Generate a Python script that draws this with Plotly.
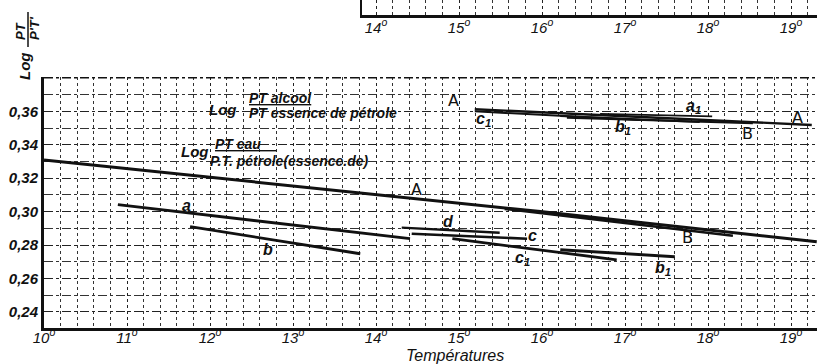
import plotly.graph_objects as go

# ---- Log(PT alcool / PT essence de pétrole) : segments (température °C, valeur) ----
alc_A_T = [15.19, 19.25]
alc_A_v = [0.3612, 0.3518]
alc_c1_T = [15.19, 17.18]
alc_c1_v = [0.3600, 0.3548]
alc_b1_T = [16.22, 17.90]
alc_b1_v = [0.3572, 0.3536]
alc_a1_T = [16.70, 18.05]
alc_a1_v = [0.3584, 0.3570]
alc_B_T = [16.30, 18.54]
alc_B_v = [0.3562, 0.3528]

# ---- Log(PT eau / PT pétrole) : segments ----
eau_A_T = [10.0, 15.98, 19.31]
eau_A_v = [0.3308, 0.3000, 0.2820]
eau_B_T = [15.55, 18.30]
eau_B_v = [0.3016, 0.2856]
eau_a_T = [10.89, 14.41]
eau_a_v = [0.3042, 0.2838]
eau_b_T = [11.76, 13.81]
eau_b_v = [0.2910, 0.2748]
eau_d_T = [14.31, 15.49]
eau_d_v = [0.2904, 0.2874]
eau_c_T = [14.43, 15.82]
eau_c_v = [0.2868, 0.2838]
eau_c1_T = [14.92, 16.90]
eau_c1_v = [0.2838, 0.2712]
eau_b1_T = [16.22, 17.60]
eau_b1_v = [0.2772, 0.2730]

# Curve letters and where they are written
label_text = ["A", "A", "a<sub>1</sub>", "b<sub>1</sub>", "B", "c<sub>1</sub>",
              "A", "B", "a", "b", "d", "c", "c<sub>1</sub>", "b<sub>1</sub>"]
label_T = [14.93, 19.08, 17.82, 16.98, 18.48, 15.29,
           14.49, 17.75, 11.72, 12.70, 14.87, 15.89, 15.77, 17.46]
label_v = [0.3662, 0.3560, 0.3626, 0.3502, 0.3466, 0.3552,
           0.3134, 0.2844, 0.3038, 0.2772, 0.2942, 0.2856, 0.2722, 0.2662]

# Axis ticks
x_ticks = list(range(10, 20))
x_ticktext = [f"{t}<sup>o</sup>" for t in x_ticks]
top_ticks = list(range(14, 20))
top_ticktext = [f"{t}<sup>o</sup>" for t in top_ticks]
y_ticks = [0.24, 0.26, 0.28, 0.30, 0.32, 0.34, 0.36]
y_ticktext = ["0,24", "0,26", "0,28", "0,30", "0,32", "0,34", "0,36"]

INK = "#111111"
FONT = "Liberation Sans"
W_PLOT, H_PLOT, LEFT = 773, 328, 44


def px(xp):
    """Horizontal page pixel -> paper fraction."""
    return (xp - LEFT) / W_PLOT


def py(yp):
    """Vertical page pixel -> paper fraction."""
    return (H_PLOT - yp) / H_PLOT


fig = go.Figure()

segments = [
    (alc_A_T, alc_A_v, 2.4), (alc_c1_T, alc_c1_v, 2.0), (alc_b1_T, alc_b1_v, 2.0),
    (alc_a1_T, alc_a1_v, 1.8), (alc_B_T, alc_B_v, 2.0),
    (eau_A_T, eau_A_v, 3.0), (eau_B_T, eau_B_v, 2.4), (eau_a_T, eau_a_v, 2.8),
    (eau_b_T, eau_b_v, 2.8), (eau_d_T, eau_d_v, 2.4), (eau_c_T, eau_c_v, 2.6),
    (eau_c1_T, eau_c1_v, 2.8), (eau_b1_T, eau_b1_v, 2.8),
]
for xs, ys, w in segments:
    fig.add_trace(go.Scatter(x=xs, y=ys, mode="lines",
                             line=dict(color=INK, width=w),
                             showlegend=False, hoverinfo="skip"))

# Empty trace so the upper strip of the neighbouring graph gets its axes
fig.add_trace(go.Scatter(x=[14, 19], y=[0.5, 0.5], mode="lines",
                         line=dict(width=0), xaxis="x2", yaxis="y2",
                         showlegend=False, hoverinfo="skip"))

for txt, t, v in zip(label_text, label_T, label_v):
    upper = txt[0].isupper()
    fig.add_annotation(x=t, y=v, text=txt, showarrow=False,
                       xanchor="center", yanchor="middle",
                       font=dict(family="DejaVu Sans" if upper else FONT,
                                 size=16, color=INK,
                                 style="normal" if upper else "italic",
                                 weight="normal" if upper else "bold"))

title_font = dict(family=FONT, size=14, color=INK, style="italic", weight="bold")
log_font = dict(family=FONT, size=15, color=INK, style="italic", weight="bold")
# Log PT alcool / PT essence de pétrole
fig.add_annotation(x=12.16, y=0.3612, text="Log", showarrow=False,
                   xanchor="center", yanchor="middle", font=log_font)
fig.add_annotation(x=12.45, y=0.3680, text="<u>PT alcool</u>", showarrow=False,
                   xanchor="left", yanchor="middle", font=title_font)
fig.add_annotation(x=12.45, y=0.3590, text="PT essence de pétrole", showarrow=False,
                   xanchor="left", yanchor="middle", font=title_font)
# Log PT eau / P.T. pétrole(essence de)
fig.add_annotation(x=11.82, y=0.3360, text="Log", showarrow=False,
                   xanchor="center", yanchor="middle", font=log_font)
fig.add_annotation(x=12.04, y=0.3404, text="<u>PT eau&#160;&#160;&#160;&#160;</u>",
                   showarrow=False, xanchor="left", yanchor="middle", font=title_font)
fig.add_annotation(x=11.98, y=0.3300, text="P.T. pétrole(essence.de)", showarrow=False,
                   xanchor="left", yanchor="middle", font=title_font)

# Axis titles
fig.add_annotation(x=px(455), y=py(355), xref="paper", yref="paper",
                   text="Températures", showarrow=False,
                   xanchor="center", yanchor="middle",
                   font=dict(family=FONT, size=16, color=INK, style="italic"))
fig.add_annotation(x=px(25), y=py(66), xref="paper", yref="paper",
                   text="Log", textangle=-90, showarrow=False,
                   xanchor="center", yanchor="middle", font=log_font)
fig.add_annotation(x=px(21), y=py(31), xref="paper", yref="paper",
                   text="PT", textangle=-90, showarrow=False,
                   xanchor="center", yanchor="middle",
                   font=dict(family=FONT, size=13, color=INK, style="italic", weight="bold"))
fig.add_annotation(x=px(35), y=py(28), xref="paper", yref="paper",
                   text="P'T'", textangle=-90, showarrow=False,
                   xanchor="center", yanchor="middle",
                   font=dict(family=FONT, size=13, color=INK, style="italic", weight="bold"))
fig.add_shape(type="line", xref="paper", yref="paper",
              x0=px(28), x1=px(28), y0=py(12), y1=py(47),
              line=dict(color=INK, width=1.5))

grid_common = dict(gridcolor="#222222", gridwidth=1)

fig.update_layout(
    width=817, height=364,
    margin=dict(l=LEFT, r=0, t=0, b=36),
    paper_bgcolor="white", plot_bgcolor="white",
    xaxis=dict(
        range=[10, 19.313], domain=[0, 1], anchor="y",
        tickvals=x_ticks, ticktext=x_ticktext, ticks="",
        tickfont=dict(family=FONT, size=15, color=INK, style="italic"),
        ticklabelstandoff=-6,
        showgrid=True, griddash="dot", **grid_common,
        minor=dict(dtick=0.2, tick0=10, showgrid=True, griddash="dot",
                   gridcolor="#333333", gridwidth=1),
        showline=True, linecolor=INK, linewidth=2.5, zeroline=False,
    ),
    yaxis=dict(
        range=[0.2304, 0.3805], domain=[0, py(77)], anchor="x",
        tickvals=y_ticks, ticktext=y_ticktext, ticks="",
        tickfont=dict(family=FONT, size=15, color=INK, style="italic", weight="bold"),
        showgrid=True, griddash="dashdot", **grid_common,
        minor=dict(dtick=0.01, tick0=0.23, showgrid=True, griddash="dashdot",
                   gridcolor="#333333", gridwidth=1),
        showline=True, linecolor=INK, linewidth=3, zeroline=False,
    ),
    xaxis2=dict(
        range=[13.831, 19.313], domain=[px(362), 1], anchor="y2",
        tickvals=top_ticks, ticktext=top_ticktext, ticks="",
        tickfont=dict(family=FONT, size=15, color=INK, style="italic"),
        ticklabelstandoff=-3,
        showgrid=True, griddash="dot", **grid_common,
        minor=dict(dtick=0.2, tick0=10, showgrid=True, griddash="dot",
                   gridcolor="#333333", gridwidth=1),
        showline=True, linecolor=INK, linewidth=2.5, zeroline=False,
    ),
    yaxis2=dict(
        range=[0, 1], domain=[py(15), 1], anchor="x2",
        showticklabels=False, showgrid=False, zeroline=False,
        showline=True, linecolor=INK, linewidth=1.5,
    ),
)

# Dash-dot top border of the main frame
fig.add_shape(type="line", xref="x", yref="y", x0=10, x1=19.313, y0=0.38, y1=0.38,
              line=dict(color=INK, width=1.5, dash="dashdot"))

fig.write_html("out.html")
